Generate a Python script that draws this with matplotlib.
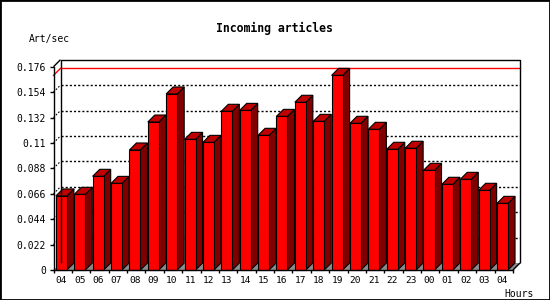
import matplotlib

matplotlib.use("Agg")
import matplotlib.pyplot as plt
from matplotlib.patches import Polygon, Rectangle
import numpy as np

# --- data ---------------------------------------------------------------
hours = ["04", "05", "06", "07", "08", "09", "10", "11", "12", "13", "14", "15",
         "16", "17", "18", "19", "20", "21", "22", "23", "00", "01", "02", "03", "04"]
art_sec = [0.0641, 0.0655, 0.0811, 0.0750, 0.1039, 0.1281, 0.1524, 0.1131,
           0.1105, 0.1374, 0.1382, 0.1166, 0.1330, 0.1452, 0.1287, 0.1685,
           0.1270, 0.1218, 0.1045, 0.1054, 0.0863, 0.0742, 0.0785, 0.0690,
           0.0577]
yticks = [0, 0.022, 0.044, 0.066, 0.088, 0.11, 0.132, 0.154, 0.176]
ytick_labels = ["0", "0.022", "0.044", "0.066", "0.088", "0.11", "0.132", "0.154", "0.176"]

FRONT = "#ff0000"
SIDE = "#800000"
TOP = "#c00000"
FLOOR = "#8c8c8c"
MONO = "DejaVu Sans Mono"

W, H = 550, 300
fig = plt.figure(figsize=(W / 100, H / 100), dpi=100)
fig.patch.set_facecolor("white")

# front plane of the pseudo-3d box, in pixels
x_l, x_r, y_b, y_t = 53.5, 513.0, 270.0, 66.7
ax = fig.add_axes([x_l / W, 1 - y_b / H, (x_r - x_l) / W, (y_b - y_t) / H])
n = len(art_sec)
ymax = yticks[-1]
ax.set_xlim(0, n)
ax.set_ylim(0, ymax)
ax.patch.set_alpha(0)

# depth of 7 px expressed in data units
depth_px = 7.0
dx = depth_px / ((x_r - x_l) / n)
dy = depth_px / (y_b - y_t) * ymax

for s in ["top", "right"]:
    ax.spines[s].set_visible(False)
for s in ["left", "bottom"]:
    ax.spines[s].set_linewidth(1.0)
    ax.spines[s].set_zorder(6)

ax.set_yticks(yticks)
ax.set_yticklabels(ytick_labels, fontfamily=MONO, fontsize=7)
ax.tick_params(axis="y", direction="out", length=2.9, width=1, pad=2.6)

ax.set_xticks(np.arange(0, n + 1))
ax.set_xticklabels([])
ax.tick_params(axis="x", which="major", direction="out", length=2.2, width=1)
face_w = 0.6
face_off = 0.13
ax.set_xticks(np.arange(n) + face_off + face_w / 2, minor=True)
ax.set_xticklabels(hours, minor=True, fontfamily=MONO, fontsize=6.8)
ax.tick_params(axis="x", which="minor", length=0, pad=4.2)

# floor
ax.add_patch(Polygon([(0, 0), (n, 0), (n + dx, dy), (dx, dy)], closed=True,
                     facecolor=FLOOR, edgecolor="none", zorder=1, clip_on=False))

# back wall frame
kw = dict(color="black", lw=1, clip_on=False, zorder=5, solid_capstyle="butt")
ax.plot([dx, dx, n + dx, n + dx], [dy, ymax + dy, ymax + dy, dy], **kw)
ax.plot([0, dx], [ymax, ymax + dy], **kw)
ax.plot([n, n + dx], [0, dy], **kw)

# dotted gridlines on the back wall
for t in yticks[1:-1]:
    ax.plot([dx, n + dx], [t + dy, t + dy], color="black", lw=1,
            linestyle=(0, (1.5, 1.5)), clip_on=False, zorder=2)
    ax.plot([0, dx], [t, t + dy], color="black", lw=0.8,
            linestyle=(0, (1.5, 1.5)), clip_on=False, zorder=2)

# maximum line
m = max(art_sec)
ax.plot([dx, n + dx], [m + dy, m + dy], color=FRONT, lw=1, clip_on=False, zorder=2)
ax.plot([0, dx], [m, m + dy], color=FRONT, lw=1, clip_on=False, zorder=2)

# bars
ekw = dict(closed=True, edgecolor="black", linewidth=0.8, clip_on=False, zorder=3)
for i, v in enumerate(art_sec):
    x0 = i + face_off
    x1 = x0 + face_w
    ax.add_patch(Polygon([(x1, 0), (x1 + dx, dy), (x1 + dx, v + dy), (x1, v)],
                         facecolor=SIDE, **ekw))
    ax.add_patch(Polygon([(x0, v), (x0 + dx, v + dy), (x1 + dx, v + dy), (x1, v)],
                         facecolor=TOP, **ekw))
    ax.add_patch(Polygon([(x0, 0), (x1, 0), (x1, v), (x0, v)],
                         facecolor=FRONT, **ekw))

# texts
fig.text(274 / W, 1 - 28 / H, "Incoming articles", ha="center", va="center",
         fontfamily=MONO, fontsize=8.3, fontweight="bold")
fig.text(29 / W, 1 - 39 / H, "Art/sec", ha="left", va="center",
         fontfamily=MONO, fontsize=7)
fig.text(534 / W, 1 - 294 / H, "Hours", ha="right", va="center",
         fontfamily=MONO, fontsize=7)

# image border
fig.add_artist(Rectangle((0, 0), 1, 1, transform=fig.transFigure, fill=False,
                         edgecolor="black", linewidth=2))

fig.savefig("out.png", dpi=100)
